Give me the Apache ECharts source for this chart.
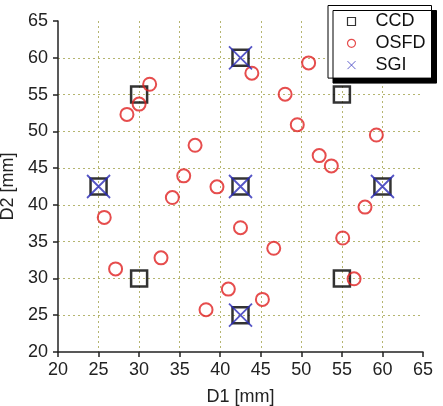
<!DOCTYPE html>
<html><head><meta charset="utf-8">
<script src="https://cdn.jsdelivr.net/npm/echarts@6/dist/echarts.min.js"></script>
<style>html,body{margin:0;padding:0;background:#fff}#c{width:443px;height:406px}</style>
</head><body><div id="c"></div>
<script>
const xTicks = [20,25,30,35,40,45,50,55,60,65];
const yTicks = [20,25,30,35,40,45,50,55,60,65];
const ccdX = [30,55,30,55,42.5,25,42.5,60,42.5];
const ccdY = [55,55,30,30,60,42.5,42.5,42.5,25];
const sgiX = [42.5,25,42.5,60,42.5];
const sgiY = [60,42.5,42.5,42.5,25];
const osfdX = [31.3,30.0,28.5,43.9,50.9,48.0,49.5,59.25,36.9,52.2,53.7,35.5,39.6,34.1,25.7,57.85,42.5,55.1,46.6,32.7,27.1,56.5,41.0,45.2,38.25];
const osfdY = [56.4,53.7,52.3,57.9,59.3,55.05,50.9,49.5,48.1,46.7,45.3,43.95,42.45,41.0,38.3,39.7,36.9,35.5,34.1,32.8,31.3,29.95,28.55,27.15,25.75];
const zip = (a,b)=>a.map((v,i)=>[v,b[i]]);
const font = '"Liberation Sans", Arial, sans-serif';
const chart = echarts.init(document.getElementById('c'), null, {renderer:'canvas'});
const axisCommon = {
  min: 20, max: 65, interval: 5,
  axisLine: {show:true, onZero:false, lineStyle:{color:'#222', width:1.5}},
  axisTick: {show:true, inside:false, length:5, lineStyle:{color:'#222', width:1.5}},
  axisLabel: {color:'#222', fontSize:18, fontFamily:font},
  splitLine: {show:true, showMinLine:false, showMaxLine:false, lineStyle:{color:'#b5b570', type:[2,3], width:1}},
  nameLocation:'middle',
  nameTextStyle:{color:'#222', fontSize:18, fontFamily:font}
};
chart.setOption({
  animation:false,
  backgroundColor:'#fff',
  grid:{left:58, right:20, top:21, bottom:54, containLabel:false, outerBoundsMode:'none'},
  xAxis: Object.assign({}, axisCommon, {type:'value', name:'D1 [mm]', nameGap:36, axisLabel:Object.assign({}, axisCommon.axisLabel, {margin:9})}),
  yAxis: Object.assign({}, axisCommon, {type:'value', name:'D2 [mm]', nameGap:28, axisLabel:Object.assign({}, axisCommon.axisLabel, {margin:10})}),
  legend:{
    orient:'vertical', left:328, top:5.5,
    padding:[7,6,4,17],
    backgroundColor:'#fff', borderColor:'#000', borderWidth:1,
    shadowColor:'#000', shadowOffsetX:5, shadowOffsetY:5, shadowBlur:0,
    itemWidth:8, itemHeight:8, itemGap:3.8,
    textStyle:{color:'#111', fontSize:18, fontFamily:font, lineHeight:18, padding:[0,0,0,15]},
    data:[
      {name:'CCD', icon:'rect', itemStyle:{color:'none', borderColor:'#000', borderWidth:1.2}},
      {name:'OSFD', icon:'circle', itemStyle:{color:'none', borderColor:'#e02020', borderWidth:1.2}},
      {name:'SGI', icon:'path://M0,0L10,10M10,0L0,10', itemStyle:{color:'none', borderColor:'#3a3ac0', borderWidth:1}}
    ]
  },
  series:[
    {name:'CCD', type:'scatter', data:zip(ccdX,ccdY), symbol:'rect', symbolSize:16,
     itemStyle:{color:'none', borderColor:'#000', borderWidth:2.5}, z:2},
    {name:'OSFD', type:'scatter', data:zip(osfdX,osfdY), symbol:'circle', symbolSize:13,
     itemStyle:{color:'none', borderColor:'#e02020', borderWidth:2}, z:3},
    {name:'SGI', type:'scatter', data:zip(sgiX,sgiY), symbol:'path://M0,0L10,10M10,0L0,10', symbolSize:23,
     itemStyle:{color:'none', borderColor:'#2a2ab8', borderWidth:1.8}, z:4}
  ]
});
</script></body></html>
